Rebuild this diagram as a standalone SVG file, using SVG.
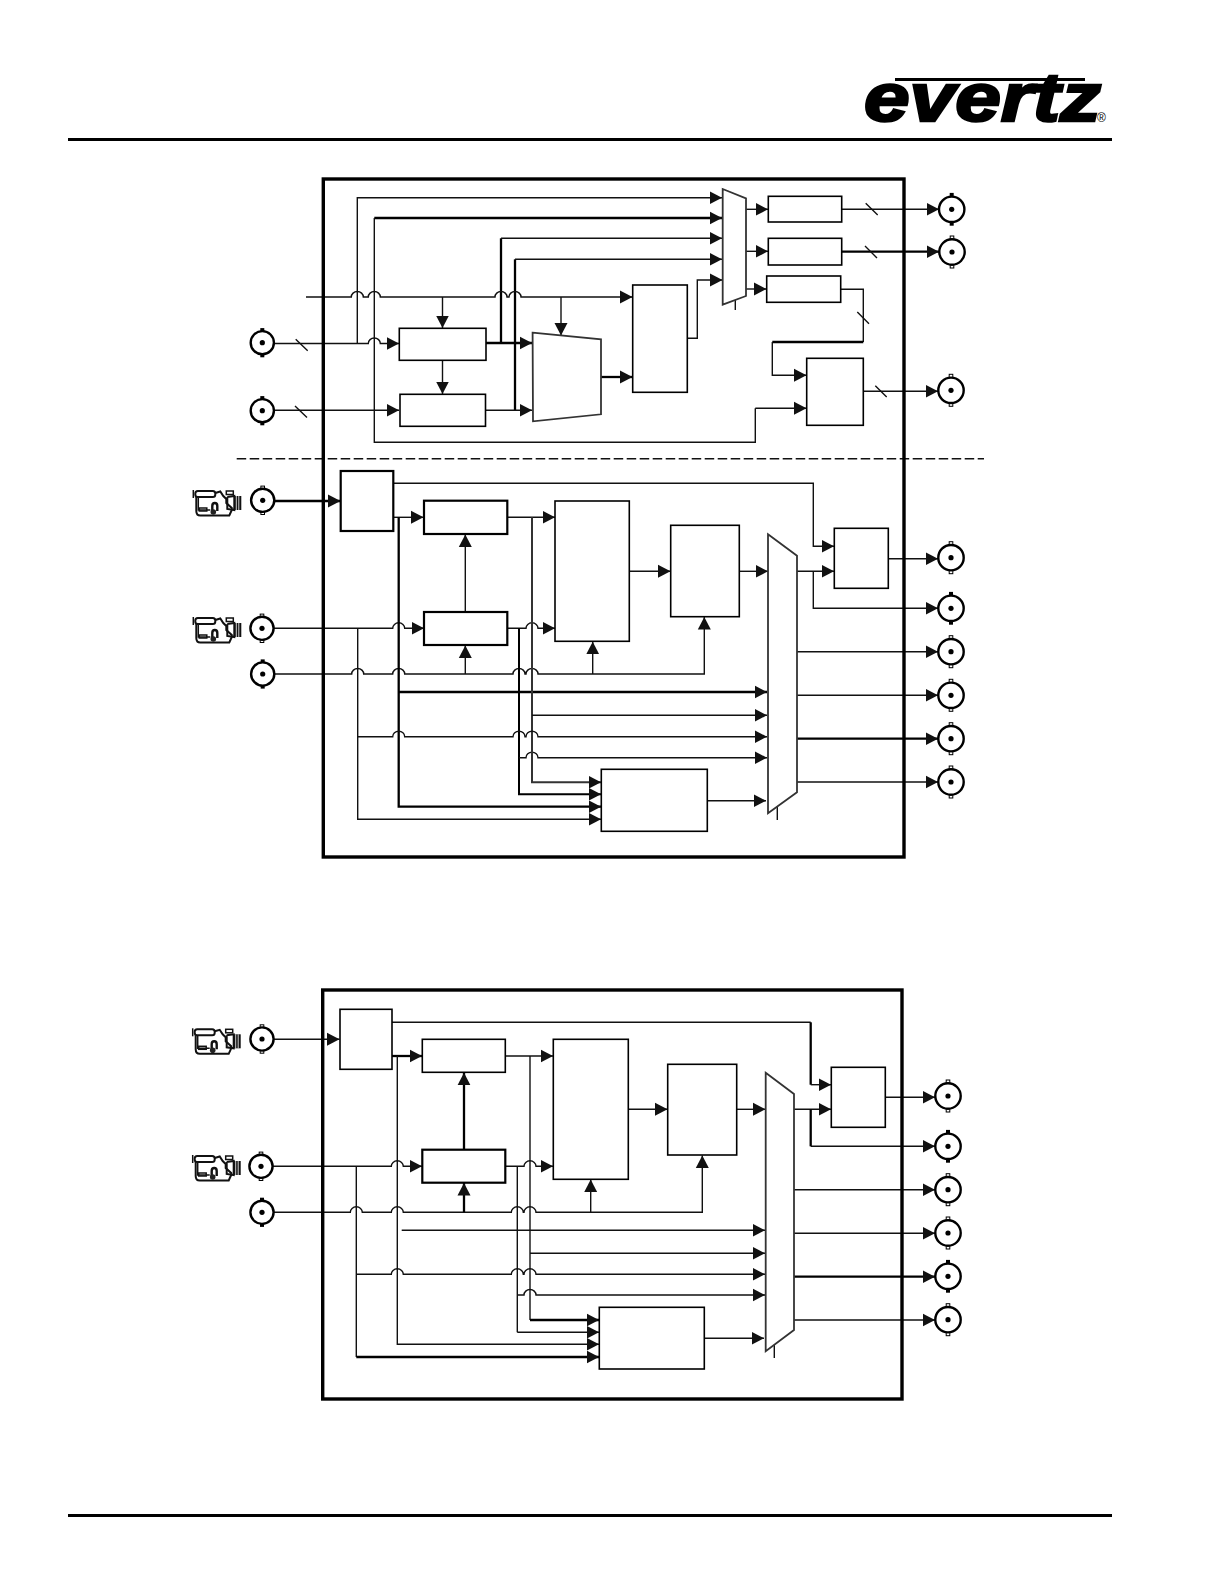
<svg xmlns="http://www.w3.org/2000/svg" width="1224" height="1584" viewBox="0 0 1224 1584">
<style>
.n{fill:#fff;stroke:#000;stroke-width:1.6}
.nk{fill:#fff;stroke:#000;stroke-width:2.2}
.m{fill:#fff;stroke:#333;stroke-width:1.8}
.f{fill:none;stroke:#000;stroke-width:3.4}
.t{fill:none;stroke:#111;stroke-width:1.4}
.k{fill:none;stroke:#000;stroke-width:2.3}
.a{marker-end:url(#ah)}
.rule{fill:#000}
.cam{fill:none;stroke:#111;stroke-width:1.5}
</style>
<defs>
<marker id="ah" markerUnits="userSpaceOnUse" markerWidth="13" markerHeight="14" viewBox="0 0 13 14" refX="12.5" refY="7" orient="auto"><path d="M0,0.5 L12.5,7 L0,13.5 Z" fill="#111"/></marker>
<g id="bnc"><rect x="-1.8" y="-14.2" width="3.6" height="3.4" fill="#fff" stroke="#000" stroke-width="1"/><rect x="-1.8" y="10.8" width="3.6" height="3.4" fill="#fff" stroke="#000" stroke-width="1"/><circle r="11.6" fill="#fff" stroke="#000" stroke-width="2.4"/><circle r="2.6" fill="#000"/></g>
<g id="bncf"><rect x="-2" y="-14.6" width="4" height="4" fill="#000"/><rect x="-2" y="10.6" width="4" height="4" fill="#000"/><circle r="11.6" fill="#fff" stroke="#000" stroke-width="2.4"/><circle r="2.6" fill="#000"/></g>
<g id="bncr"><rect x="-1.8" y="-16" width="3.6" height="3.4" fill="#fff" stroke="#000" stroke-width="1"/><rect x="-1.8" y="12.6" width="3.6" height="3.4" fill="#fff" stroke="#000" stroke-width="1"/><circle r="12.7" fill="#fff" stroke="#000" stroke-width="2.4"/><circle r="2.6" fill="#000"/></g>
<g id="bncrf"><rect x="-2" y="-16.4" width="4" height="4" fill="#000"/><rect x="-2" y="12.400" width="4" height="4" fill="#000"/><circle r="12.7" fill="#fff" stroke="#000" stroke-width="2.4"/><circle r="2.6" fill="#000"/></g>
<g id="camera">
<path class="cam" stroke-width="2" d="M0,0 V8"/>
<rect class="cam" x="2" y="1" width="20" height="6" rx="2.5" style="stroke-width:2"/>
<path class="cam" style="stroke-width:2" d="M3,7 V21 Q3,25.500 7,25.500 H36 L38.500,20 V18 L33,13 V9 L30,6 L27,1.500 L22,3"/>
<path class="cam" d="M5,7 V20 H17"/>
<rect class="cam" x="6" y="18" width="7.500" height="3"/>
<path class="cam" style="stroke-width:2.400" d="M19,22 V16 Q19,13 21.500,13 Q24,13 24,16 V21"/>
<circle cx="20" cy="22" r="2.800" fill="#222"/>
<rect class="cam" x="33" y="1" width="7" height="3.500"/>
<path class="cam" style="stroke-width:2" d="M34,7 L41,6 V20 L34,19 V7"/>
<rect x="41" y="6" width="7" height="14" fill="#111"/>
<path d="M43,6 V20 M45.500,6 V20" stroke="#fff" stroke-width="0.800"/>
</g>
</defs>
<rect width="1224" height="1584" fill="#fff"/>

<g id="logo">
<text x="864" y="121" font-family="'Liberation Sans',Arial,sans-serif" font-weight="700" font-style="italic" font-size="69" textLength="237" lengthAdjust="spacingAndGlyphs" stroke="#000" stroke-width="2.500" fill="#000">evertz</text>
<rect class="rule" x="895" y="78" width="190" height="3"/>
<text x="1097" y="122" font-family="'Liberation Sans',Arial,sans-serif" font-size="12" fill="#000">®</text>
</g>
<rect class="rule" id="rule-top" x="68" y="138" width="1044" height="3"/>
<rect class="rule" id="rule-bottom" x="68" y="1514" width="1044" height="3"/>

<g id="connectors">
<path class="t a" d="M357.300,344 V197.700 H722"/>
<path class="k a" d="M374.300,218 H722"/>
<path class="t" d="M374.300,218 V442.300 H755.300 V408.300"/>
<path class="t a" d="M755.300,408.300 H806.500"/>
<path class="k" d="M501,343 V238.300"/>
<path class="t a" d="M501,238.300 H722"/>
<path class="k" d="M515,410.300 V259.300"/>
<path class="t a" d="M515,259.300 H722"/>
<path class="t a" stroke-width="1.600" d="M306,297 H351.300 a6,5.500 0 0 1 12,0 H368.300 a6,5.500 0 0 1 12,0 H495 a6,5.500 0 0 1 12,0 H509 a6,5.500 0 0 1 12,0 H632.500"/>
<path class="t a" d="M442.500,297 V328"/>
<path class="t a" d="M442.500,360.500 V394"/>
<path class="t a" d="M561,297 V335.500"/>
<path class="t a" d="M274,343.500 H368.300 a6,5.500 0 0 1 12,0 H399"/>
<path class="t a" d="M274,410.300 H399"/>
<path class="k a" d="M486,343 H532"/>
<path class="t a" d="M485.500,410.300 H532"/>
<path class="k a" d="M601,377 H632.500"/>
<path class="t a" d="M687.300,338.300 H697.300 V280 H722.500"/>
<path class="t a" d="M746,209.300 H768"/>
<path class="t a" d="M746,251.300 H768"/>
<path class="t a" d="M746,289 H766.500"/>
<path class="t" d="M735.300,300 V310"/>
<path class="t a" d="M841.700,209.300 H939"/>
<path class="k a" d="M841.700,251.700 H939"/>
<path class="t" d="M840.700,289.300 H863.300 V342"/>
<path class="k" d="M863.300,342 H772.300"/>
<path class="t a" d="M772.300,342 V375.300 H806.500"/>
<path class="t a" d="M863.300,391.300 H938"/>
<path class="t" d="M295.700,339.300 L307.700,350.700 M295,406 L307,417.500 M865.700,203.300 L877.700,215 M865,246 L877,258 M857.300,312 L869,323.700 M875.300,385.700 L886.700,397"/>
<path class="t" id="divider" stroke-dasharray="9.500 3.500" stroke-width="1.200" d="M236.700,458.700 H984"/>
<path class="k a" d="M274,501 H340.500"/>
<path class="t a" d="M393.300,483.300 H813.300 V546.300 H834"/>
<path class="t a" d="M393.300,517.300 H423.500"/>
<path class="t a" d="M465.300,612 V534.500"/>
<path class="t a" d="M274,628.300 H392.700 a6,5.500 0 0 1 12,0 H424"/>
<path class="t a" stroke-width="1.600" d="M274,674 H351.700 a6,5.500 0 0 1 12,0 H392.700 a6,5.500 0 0 1 12,0 H513 a6,5.500 0 0 1 12,0 H526 a6,5.500 0 0 1 12,0 H704.300 V617"/>
<path class="t a" d="M465.300,674 V645.500"/>
<path class="t a" d="M592.700,674 V641.800"/>
<path class="t a" d="M507.300,517.300 H555"/>
<path class="t a" d="M507.300,628.300 H526 a6,5.500 0 0 1 12,0 H555"/>
<path class="k a" d="M398.700,517.300 V806.700 H601"/>
<path class="k a" d="M398.700,692 H767"/>
<path class="k a" d="M519,628.300 V794.300 H601" style="stroke-width:2"/>
<path class="t a" d="M519,757.700 H526 a6,5.500 0 0 1 12,0 H767"/>
<path class="k a" d="M532,517.300 V782.300 H601" style="stroke-width:2;stroke:#333"/>
<path class="t a" d="M532,715.300 H767"/>
<path class="t a" d="M357.700,628.300 V819.300 H601"/>
<path class="t a" stroke-width="1.600" d="M357.700,736.700 H392.700 a6,5.500 0 0 1 12,0 H513 a6,5.500 0 0 1 12,0 H526 a6,5.500 0 0 1 12,0 H767"/>
<path class="t a" d="M707.300,800.700 H766"/>
<path class="t a" d="M629.300,571.300 H670.500"/>
<path class="t a" d="M739.300,571.300 H768"/>
<path class="t a" d="M797,571.300 H834"/>
<path class="t a" d="M813.300,571.300 V608.300 H938"/>
<path class="t a" d="M888.300,558.700 H938"/>
<path class="t a" d="M797,651.700 H938"/>
<path class="t a" d="M797,695.300 H938"/>
<path class="k a" d="M797,738.700 H938"/>
<path class="t a" d="M797,782 H938"/>
<path class="t" d="M777.300,805 V820"/>
<path class="t a" d="M274,1039.300 H339.500"/>
<path class="t" d="M392,1022.300 H810.700"/>
<path class="k" d="M810.700,1022.300 V1084.700"/>
<path class="t a" d="M810.700,1084.700 H831"/>
<path class="k a" d="M392,1056 H422"/>
<path class="k a" d="M464,1149.700 V1072.800"/>
<path class="t a" stroke-width="1.600" d="M273,1166.300 H391.300 a6,5.500 0 0 1 12,0 H422"/>
<path class="t a" stroke-width="1.600" d="M274,1212.300 H350.300 a6,5.500 0 0 1 12,0 H391.300 a6,5.500 0 0 1 12,0 H511.300 a6,5.500 0 0 1 12,0 H524 a6,5.500 0 0 1 12,0 H702.300 V1155.500"/>
<path class="k a" d="M464,1212.300 V1183"/>
<path class="t a" d="M590.700,1212.300 V1179.600"/>
<path class="t a" d="M505.300,1056 H553"/>
<path class="t a" d="M505.300,1166.300 H524 a6,5.500 0 0 1 12,0 H553"/>
<path class="t a" d="M397.300,1056 V1344.300 H599"/>
<path class="t a" stroke-width="1.700" d="M401.700,1230.300 H765"/>
<path class="t" d="M517.300,1166.300 V1332.300"/>
<path class="t a" d="M517.300,1332.300 H599"/>
<path class="t a" d="M517.300,1295 H524 a6,5.500 0 0 1 12,0 H765"/>
<path class="t" d="M530,1056 V1320"/>
<path class="k a" d="M530,1320 H599"/>
<path class="t a" d="M530,1253.300 H765"/>
<path class="t" d="M356.300,1166.300 V1357"/>
<path class="k a" d="M356.300,1357 H599"/>
<path class="t a" stroke-width="1.600" d="M356.300,1274.300 H391.300 a6,5.500 0 0 1 12,0 H511.300 a6,5.500 0 0 1 12,0 H524 a6,5.500 0 0 1 12,0 H765"/>
<path class="t a" d="M704.300,1338.300 H764"/>
<path class="t a" d="M628.300,1109.300 H667.500"/>
<path class="t a" d="M736.700,1109.300 H765.500"/>
<path class="t a" d="M794,1109.300 H831"/>
<path class="k" d="M810.700,1109.300 V1146.300"/>
<path class="t a" d="M810.700,1146.300 H935"/>
<path class="t a" d="M885.300,1097.300 H935"/>
<path class="t a" d="M794,1189.700 H935"/>
<path class="t a" d="M794,1233.300 H935"/>
<path class="k a" d="M794,1276.700 H935"/>
<path class="t a" d="M794,1320 H935"/>
<path class="t" d="M774.300,1345 V1358"/>
</g>

<g id="frame-upper"><rect class="f" x="323.300" y="179" width="580.700" height="678"/></g>
<g id="frame-lower"><rect class="f" x="322.700" y="990" width="579.300" height="409"/></g>

<g id="box-a"><rect class="n" x="399.300" y="328.300" width="86.700" height="32"/></g>
<g id="box-b"><rect class="n" x="400" y="394.300" width="85.500" height="32"/></g>
<g id="trapezoid"><path class="m" d="M532.600,332.700 L601,339.300 V414.300 L533,421.300 Z"/></g>
<g id="box-c"><rect class="n" x="632.700" y="285" width="54.600" height="107.300"/></g>
<g id="mux-top"><path class="m" d="M722.700,189 L746,198.300 V296 L722.700,304.700 Z"/></g>
<g id="box-d"><rect class="n" x="768.300" y="196.300" width="73.400" height="25.700"/></g>
<g id="box-e"><rect class="n" x="768.300" y="238.300" width="73.400" height="26.700"/></g>
<g id="box-f"><rect class="n" x="766.700" y="276" width="74" height="26.300"/></g>
<g id="box-g"><rect class="n" x="806.700" y="358.300" width="56.600" height="67"/></g>

<g id="box-h"><rect class="nk" x="340.700" y="471" width="52.600" height="60"/></g>
<g id="box-i"><rect class="nk" x="424" y="500.700" width="83.300" height="33.300"/></g>
<g id="box-j"><rect class="nk" x="424" y="612" width="83.300" height="33"/></g>
<g id="box-l"><rect class="n" x="555" y="501" width="74.300" height="140.300"/></g>
<g id="box-k"><rect class="n" x="670.700" y="525.300" width="68.600" height="91.400"/></g>
<g id="box-m"><rect class="n" x="601.300" y="769.300" width="106" height="62"/></g>
<g id="box-n"><rect class="n" x="834.300" y="528.300" width="54" height="60"/></g>
<g id="mux-mid"><path class="m" d="M768,534.300 L797,555.700 V792.300 L768,813.300 Z"/></g>

<g id="box-h2"><rect class="n" x="340" y="1009.300" width="52" height="60"/></g>
<g id="box-i2"><rect class="n" x="422.300" y="1039.300" width="83" height="33"/></g>
<g id="box-j2"><rect class="nk" x="422.300" y="1149.700" width="83" height="33"/></g>
<g id="box-l2"><rect class="n" x="553.300" y="1039.300" width="75" height="140"/></g>
<g id="box-k2"><rect class="n" x="667.700" y="1064.300" width="69" height="90.700"/></g>
<g id="box-m2"><rect class="n" x="599.300" y="1307.300" width="105" height="61.700"/></g>
<g id="box-n2"><rect class="n" x="831.300" y="1067.300" width="54" height="60"/></g>
<g id="mux-low"><path class="m" d="M765.700,1072.700 L794,1094 V1330 L765.700,1351.300 Z"/></g>

<g id="bnc-in-1"><use href="#bncf" x="262.300" y="342.700"/></g>
<g id="bnc-in-2"><use href="#bncf" x="262.300" y="410.700"/></g>
<g id="bnc-out-1"><use href="#bncrf" x="951.700" y="209.300"/></g>
<g id="bnc-out-2"><use href="#bncr" x="952" y="252"/></g>
<g id="bnc-out-3"><use href="#bncr" x="951" y="390.300"/></g>
<g id="bnc-cam-1"><use href="#bnc" x="262.700" y="500.300"/></g>
<g id="bnc-cam-2"><use href="#bnc" x="262" y="628.300"/></g>
<g id="bnc-ref"><use href="#bncf" x="262.700" y="674"/></g>
<g id="bnc-o1"><use href="#bncr" x="951" y="557.700"/></g>
<g id="bnc-o2"><use href="#bncrf" x="951" y="608.300"/></g>
<g id="bnc-o3"><use href="#bncr" x="951" y="651.700"/></g>
<g id="bnc-o4"><use href="#bncr" x="951" y="695.300"/></g>
<g id="bnc-o5"><use href="#bncr" x="951" y="738.700"/></g>
<g id="bnc-o6"><use href="#bncr" x="951" y="782"/></g>
<g id="bnc-cam-3"><use href="#bnc" x="262" y="1039"/></g>
<g id="bnc-cam-4"><use href="#bnc" x="261" y="1166.300"/></g>
<g id="bnc-ref-2"><use href="#bncf" x="262" y="1212.300"/></g>
<g id="bnc-p1"><use href="#bncr" x="948" y="1096"/></g>
<g id="bnc-p2"><use href="#bncrf" x="948" y="1146.300"/></g>
<g id="bnc-p3"><use href="#bncr" x="948" y="1189.700"/></g>
<g id="bnc-p4"><use href="#bncr" x="948" y="1233"/></g>
<g id="bnc-p5"><use href="#bncrf" x="948" y="1276.300"/></g>
<g id="bnc-p6"><use href="#bncr" x="948" y="1319.700"/></g>

<g id="camera-1"><use href="#camera" x="193.300" y="490"/></g>
<g id="camera-2"><use href="#camera" x="193.300" y="617"/></g>
<g id="camera-3"><use href="#camera" x="192.700" y="1028.300"/></g>
<g id="camera-4"><use href="#camera" x="192.700" y="1155"/></g>
</svg>
